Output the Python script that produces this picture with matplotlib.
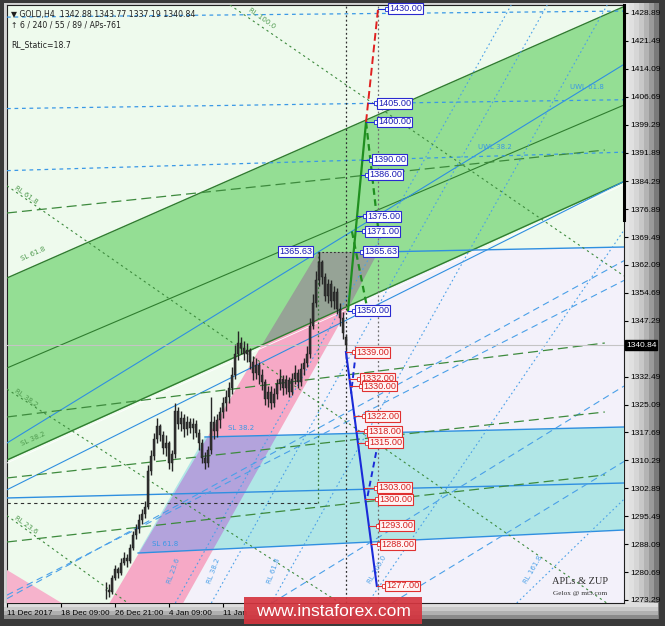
import matplotlib
matplotlib.use('Agg')
import matplotlib.pyplot as plt
from matplotlib.patches import Polygon, Rectangle
import matplotlib.transforms as mtransforms
import numpy as np

# ---------------- data ----------------
first_bar = 33
closes = [1276.0, 1275.5, 1279.0, 1281.5, 1280.5, 1283.0, 1284.5, 1283.5, 1287.0, 1290.5,
          1292.0, 1294.5, 1296.0, 1298.0, 1307.5, 1311.5, 1316.0, 1319.5, 1317.0, 1313.5,
          1315.0, 1309.5, 1312.0, 1323.5, 1320.0, 1321.5, 1318.5, 1320.5, 1319.0, 1320.0,
          1317.5, 1315.0, 1311.0, 1309.5, 1313.0, 1320.5, 1318.0, 1321.0, 1323.0, 1325.5,
          1327.0, 1329.5, 1333.0, 1338.5, 1341.5, 1340.0, 1338.5, 1339.5, 1336.5, 1333.5,
          1335.5, 1333.0, 1331.0, 1326.5, 1328.5, 1325.5, 1328.0, 1330.5, 1332.0, 1329.5,
          1331.5, 1328.5, 1332.0, 1333.5, 1331.0, 1334.5, 1336.0, 1338.5, 1346.0, 1352.0,
          1358.0, 1363.0, 1359.0, 1354.0, 1357.0, 1352.5, 1355.0, 1350.5, 1348.0, 1344.0,
          1340.84]
highs = [1278.0, 1277.5, 1280.0, 1282.5, 1282.0, 1284.5, 1286.0, 1285.5, 1288.0, 1291.5,
         1293.5, 1296.0, 1297.5, 1299.5, 1309.0, 1313.0, 1317.5, 1321.5, 1320.0, 1318.0,
         1317.0, 1315.5, 1313.0, 1325.5, 1324.5, 1323.5, 1322.5, 1322.0, 1321.5, 1321.5,
         1321.0, 1318.5, 1316.0, 1312.5, 1314.0, 1327.0, 1322.0, 1322.5, 1324.5, 1327.0,
         1329.0, 1331.0, 1335.0, 1341.0, 1344.5, 1343.0, 1342.0, 1341.5, 1340.0, 1338.0,
         1337.5, 1336.5, 1334.5, 1332.0, 1330.0, 1330.0, 1329.5, 1332.0, 1334.5, 1333.0,
         1333.0, 1332.5, 1333.5, 1335.5, 1334.5, 1336.0, 1337.5, 1340.5, 1348.0, 1354.5,
         1360.5, 1365.63, 1363.5, 1360.0, 1358.5, 1358.0, 1356.5, 1356.0, 1352.0, 1349.5,
         1343.77]
lows = [1273.5, 1274.0, 1275.0, 1278.5, 1279.0, 1280.0, 1282.5, 1282.0, 1283.0, 1286.5,
        1289.5, 1291.0, 1293.5, 1295.0, 1297.5, 1306.5, 1310.5, 1315.0, 1315.5, 1312.0,
        1311.5, 1308.0, 1307.5, 1311.0, 1318.5, 1318.0, 1316.5, 1317.0, 1317.5, 1316.0,
        1316.5, 1313.0, 1309.5, 1308.0, 1308.5, 1312.0, 1316.0, 1316.5, 1319.0, 1321.5,
        1323.5, 1325.5, 1328.0, 1332.0, 1337.0, 1338.5, 1337.0, 1336.5, 1334.5, 1331.5,
        1332.0, 1330.5, 1329.0, 1325.0, 1324.5, 1324.0, 1324.5, 1326.5, 1329.0, 1327.5,
        1328.0, 1327.0, 1327.5, 1330.5, 1329.5, 1330.0, 1333.0, 1335.0, 1337.5, 1345.0,
        1351.0, 1356.5, 1357.0, 1352.5, 1352.0, 1351.0, 1350.5, 1349.0, 1346.0, 1342.5,
        1337.19]
last_open = 1342.88
last_price = 1340.84

header_line1 = "\u25bc GOLD,H4  1342.88 1343.77 1337.19 1340.84"
header_line2 = "\u2191 6 / 240 / 55 / 89 / APs-761"
header_line3 = "RL_Static=18.7"

y_ticks = [1428.89, 1421.49, 1414.09, 1406.69, 1399.29, 1391.89, 1384.29, 1376.89,
           1369.49, 1362.09, 1354.69, 1347.29, 1332.49, 1325.09, 1317.69,
           1310.29, 1302.89, 1295.49, 1288.09, 1280.69, 1273.29]
x_tick_bars = [0, 18, 36, 54, 72]
x_tick_labels = ["11 Dec 2017", "18 Dec 09:00", "26 Dec 21:00", "4 Jan 09:00", "11 Jan"]

x_min, x_max = 0.0, 205.7
y_min, y_max = 1272.49, 1431.01

# channel (bar, price) at left and right edges
chan_x = [0.0, 205.7]
chan_upper = [1358.65, 1430.6]
chan_mid = [1334.79, 1404.5]
chan_lower = [1310.40, 1384.2]

gray_tri = [(103.7, 1365.54), (123.7, 1365.54), (114.3, 1351.4), (85.0, 1340.9)]
pink_band = [(33.8, 1272.0), (58.4, 1272.0), (114.3, 1351.4), (85.0, 1340.9)]
pink_corner = [(0.0, 1281.2), (0.0, 1272.0), (19.5, 1272.0)]
cyan_band = [(66.0, 1316.5), (205.7, 1319.15), (205.7, 1291.84), (43.7, 1285.74)]
lavender = [(123.7, 1365.54), (205.7, 1366.86), (205.7, 1272.0), (58.4, 1272.0), (114.3, 1351.4)]

# blue solid lines (two points, extended)
blue_rays = [((0, 1314.91), (201, 1412.99)),
             ((112.7, 1347.3), (205.3, 1384.1))]
# blue solid segments
blue_segs = [((123.7, 1365.54), (205.7, 1366.86)),
             ((66.0, 1316.5), (205.7, 1319.15)),
             ((0.0, 1300.33), (205.7, 1304.30)),
             ((43.7, 1285.74), (205.7, 1291.84))]
# blue dashed nearly-horizontal
blue_dash_h = [((0, 1427.8), (205.7, 1429.4)),
               ((0, 1403.55), (205.7, 1405.9)),
               ((0, 1387.1), (205.7, 1392.0))]
# blue dashed rising
blue_dash_rise = [((1, 1274.08), (64.3, 1301.65)),
                  ((90, 1273.3), (205.7, 1330.0)),
                  ((130, 1273.3), (205.7, 1310.0)),
                  ((112, 1320.0), (205.7, 1358.0))]
# blue dotted steep
blue_dot_steep = [((56.7, 1273.3), (100.0, 1334.6)),
                  ((68.7, 1273.3), (112.0, 1334.6)),
                  ((88.7, 1273.3), (132.0, 1334.6)),
                  ((121.0, 1273.3), (170.0, 1330.0)),
                  ((171.0, 1273.3), (205.7, 1300.0))]
# green dashed (long dash)
green_dash = [((0, 1375.87), (199.3, 1392.57)),
              ((0, 1321.80), (199.3, 1341.41)),
              ((0, 1305.63), (199.3, 1323.12)),
              ((0, 1288.66), (199.3, 1306.43))]
# green dotted falling (RL)
green_dot = [((75.3, 1430.48), (101.0, 1416.43)),
             ((2.0, 1381.97), (64.3, 1347.51)),
             ((2.0, 1328.16), (64.3, 1296.35)),
             ((2.0, 1294.49), (34.3, 1275.93))]

# projections
proj_green = [(113.7, 1350.0), (119.7, 1400.0)]
proj_green_dash = [((119.7, 1400.0), (123.7, 1372.0)), ((115.0, 1371.0), (120.0, 1351.0))]
proj_red = [(119.7, 1400.0), (123.7, 1430.0)]
proj_blue = [(113.0, 1339.0), (123.3, 1277.0)]
proj_blue_dash = [((116.3, 1338.8), (114.7, 1328.0)), ((123.7, 1315.0), (120.0, 1300.0))]

blue_labels = [(127.0, 1430.00), (123.3, 1405.00), (123.3, 1400.00), (121.7, 1390.00),
               (120.3, 1386.00), (119.7, 1375.00), (119.3, 1371.00), (118.7, 1365.63),
               (116.0, 1350.00)]
red_labels = [(116.0, 1339.00), (117.7, 1332.00), (118.3, 1330.00), (119.3, 1322.00),
              (120.0, 1318.00), (120.3, 1315.00), (123.3, 1303.00), (123.7, 1300.00),
              (124.0, 1293.00), (124.3, 1288.00), (126.0, 1277.00)]
peak_label = (101.7, 1365.63)

# ---------------- figure ----------------
W, H = 665, 626
fig = plt.figure(figsize=(W / 100, H / 100), dpi=100)
fig.patch.set_facecolor('#3a3a3a')

bg = fig.add_axes([0, 0, 1, 1], zorder=0)
bg.set_axis_off()
bg.set_xlim(0, W); bg.set_ylim(H, 0)
bg.add_patch(Rectangle((4, 3), 654, 616, fc='#d2d2d2', ec='none'))
for i, c in enumerate(['#e6e6e6', '#e0e0e0', '#d6d6d6', '#c8c8c8', '#b4b4b4', '#9a9a9a', '#7a7a7a']):
    bg.add_patch(Rectangle((624 + i * 5, 3), 5, 616, fc=c, ec='none'))
for i, c in enumerate(['#dedede', '#cacaca', '#b0b0b0', '#8a8a8a']):
    bg.add_patch(Rectangle((4, 603 + i * 4), 654, 4, fc=c, ec='none'))

ax = fig.add_axes([7 / W, 1 - 603 / H, 617 / W, 598 / H], zorder=2)
ax.set_facecolor('#eefaed')
ax.set_xlim(x_min, x_max)
ax.set_ylim(y_min, y_max)

# zones
ax.add_patch(Polygon(lavender, closed=True, fc='#f3f1fa', ec='none', zorder=1))
ax.fill_between(chan_x, chan_lower, chan_upper, color='#94de94', lw=0, zorder=2)
ax.add_patch(Polygon(gray_tri, closed=True, fc='#96a396', ec='none', zorder=3))
pink = Polygon(pink_band, closed=True, fc='#f6a9c6', ec='none', zorder=3)
ax.add_patch(pink)
ax.add_patch(Polygon(pink_corner, closed=True, fc='#f6b3cc', ec='none', zorder=3))
ax.add_patch(Polygon(cyan_band, closed=True, fc='#b0e6e6', ec='none', zorder=3))
purple = Polygon(cyan_band, closed=True, fc='#b3a3dc', ec='none', zorder=3.5)
ax.add_patch(purple)
purple.set_clip_path(pink)

# channel lines
for ys, lw in [(chan_upper, 1.0), (chan_mid, 0.8), (chan_lower, 1.0)]:
    ax.plot(chan_x, ys, color='#2f7d2f', lw=lw, zorder=4)
ax.plot(chan_x, [chan_lower[0] - 0.8, chan_lower[1] - 0.8], color='#ffffff', lw=0.6, zorder=4)

for p1, p2 in blue_rays:
    ax.axline(p1, p2, color='#2f8fe0', lw=0.8, zorder=4)
for p1, p2 in blue_segs:
    ax.plot([p1[0], p2[0]], [p1[1], p2[1]], color='#2f8fe0', lw=1.0, zorder=4)
for p1, p2 in blue_dash_h:
    ax.plot([p1[0], p2[0]], [p1[1], p2[1]], color='#3a98e6', lw=0.9, ls=(0, (3, 3)), zorder=4)
for p1, p2 in blue_dash_rise:
    ax.axline(p1, p2, color='#4aa0e8', lw=0.8, ls=(0, (6, 4)), zorder=4)
for p1, p2 in blue_dot_steep:
    ax.axline(p1, p2, color='#4aa0e8', lw=0.8, ls=(0, (1.5, 2.5)), zorder=4)
for p1, p2 in green_dash:
    ax.plot([p1[0], p2[0]], [p1[1], p2[1]], color='#3d8a3d', lw=0.9, ls=(0, (8, 4)), zorder=4)
for p1, p2 in green_dot:
    ax.axline(p1, p2, color='#3d8a3d', lw=0.8, ls=(0, (2, 3)), zorder=4)

# current price line
ax.axhline(last_price, color='#c4c4c4', lw=0.8, zorder=4)

# dotted verticals / horizontals
last_bar = first_bar + len(closes) - 1
ax.axvline(last_bar, color='#303030', lw=0.9, ls=(0, (1.5, 2)), zorder=5)
ax.axvline(123.7, color='#707070', lw=0.9, ls=(0, (1.5, 2)), zorder=5)
ax.plot([103.7, 103.7], [1299.0, peak_label[1]], color='#3d7a3d', lw=0.9, ls=(0, (1.5, 2)), zorder=5)
ax.plot([0, 103.7], [1299.0, 1299.0], color='#303030', lw=0.8, ls=(0, (3, 3)), zorder=5)
ax.plot([103.7, 123.7], [peak_label[1], peak_label[1]], color='#303030', lw=0.8, ls=(0, (1.5, 2)), zorder=5)

# candles
xs = np.arange(first_bar, first_bar + len(closes))
opens = [closes[0]] + closes[:-1]
opens[-1] = last_open
ax.vlines(xs, lows, highs, color='#262626', lw=1.0, zorder=6)
body_lo = np.minimum(opens, closes)
body_h = np.abs(np.array(closes) - np.array(opens))
ax.bar(xs, body_h, bottom=body_lo, width=0.6, color='#333333', edgecolor='#1a1a1a', lw=0.3, zorder=6)

# projections
ax.plot(*zip(*proj_green), color='#1f8f1f', lw=1.6, zorder=7)
for p1, p2 in proj_green_dash:
    ax.plot([p1[0], p2[0]], [p1[1], p2[1]], color='#1f8f1f', lw=1.6, ls=(0, (3, 2)), zorder=7)
ax.plot(*zip(*proj_red), color='#e02020', lw=1.4, ls=(0, (4, 2)), zorder=7)
ax.plot(*zip(*proj_blue), color='#1a2ad8', lw=1.5, zorder=7)
for p1, p2 in proj_blue_dash:
    ax.plot([p1[0], p2[0]], [p1[1], p2[1]], color='#1a2ad8', lw=1.4, ls=(0, (3, 2)), zorder=7)

lab_font = dict(family='Liberation Sans', size=6.6)


def proj_x(line, price):
    (xa, ya), (xb, yb) = line
    return xa + (price - ya) * (xb - xa) / (yb - ya)


for x, p in blue_labels:
    x0 = proj_x(proj_green if p <= 1400 else proj_red, p)
    ax.plot([x0, x - 0.4], [p, p], color='#1a2ad8', lw=0.8, zorder=8)
    ax.plot([x - 0.3], [p], marker='s', ms=2.2, mfc='white', mec='#1a2ad8', mew=0.6, zorder=9)
    ax.text(x + 0.4, p, f"{p:.2f}", color='#1a1ab4', fontdict=lab_font, va='center', ha='left', zorder=9,
            bbox=dict(boxstyle='square,pad=0.1', fc='white', ec='#2a2ad0', lw=0.8))
for x, p in red_labels:
    x0 = proj_x(proj_blue, p)
    ax.plot([x0, x - 0.4], [p, p], color='#e03030', lw=0.8, zorder=8)
    ax.plot([x - 0.3], [p], marker='s', ms=2.2, mfc='white', mec='#e03030', mew=0.6, zorder=9)
    ax.text(x + 0.4, p, f"{p:.2f}", color='#d42020', fontdict=lab_font, va='center', ha='left', zorder=9,
            bbox=dict(boxstyle='square,pad=0.1', fc='#fff4f4', ec='#e03030', lw=0.8))
ax.text(peak_label[0], peak_label[1], f"{peak_label[1]:.2f}", color='#1a1ab4', fontdict=lab_font,
        va='center', ha='right', zorder=9,
        bbox=dict(boxstyle='square,pad=0.1', fc='white', ec='#2a2ad0', lw=0.8))

# small line labels
small = dict(family='DejaVu Sans', size=5.0)
line_texts = [
    ("SL 61.8", 5.0, 1362.9, 24, '#4f9a4f'), ("SL 38.2", 5.0, 1313.9, 24, '#4f9a4f'),
    ("RL 61.8", 2.3, 1382.0, -35, '#4f9a4f'), ("RL 38.2", 2.3, 1328.2, -35, '#4f9a4f'),
    ("RL 23.6", 2.3, 1294.5, -35, '#4f9a4f'), ("RL 100.0", 80.3, 1429.2, -35, '#4f9a4f'),
    ("UWL 61.8", 187.7, 1408.5, 0, '#3a98e6'), ("UWL 38.2", 157.0, 1392.6, 0, '#3a98e6'),
    ("SL 38.2", 73.7, 1318.1, 0, '#3a98e6'), ("SL 61.8", 48.3, 1287.3, 0, '#3a98e6'),
    ("RL 23.6", 55.0, 1277.4, 70, '#4aa0e8'), ("RL 38.2", 68.3, 1277.4, 70, '#4aa0e8'),
    ("RL 61.8", 88.3, 1277.4, 70, '#4aa0e8'), ("RL 100.0", 121.7, 1277.4, 60, '#4aa0e8'),
    ("RL 161.8", 173.7, 1277.4, 60, '#4aa0e8'),
]
for t, x, y, r, c in line_texts:
    ax.text(x, y, t, color=c, fontdict=small, rotation=r, ha='left', va='bottom', zorder=5,
            rotation_mode='anchor')

# axes styling
for s in ax.spines.values():
    s.set_color('#202020'); s.set_linewidth(0.8)
ax.yaxis.tick_right()
ax.set_yticks(y_ticks)
ax.set_yticklabels([f"{v:.2f}" for v in y_ticks], family='Liberation Sans', fontsize=6)
ax.tick_params(axis='y', direction='out', length=3, width=0.8, pad=1.5, colors='black')
ax.set_xticks(x_tick_bars)
ax.set_xticklabels(x_tick_labels, family='Liberation Sans', fontsize=5.9, ha='left')
ax.tick_params(axis='x', direction='out', length=3, width=0.8, pad=2, colors='black')

tr = mtransforms.blended_transform_factory(ax.transAxes, ax.transData)
ax.text(1.003, last_price, f"{last_price:.2f}", transform=tr, color='white', fontsize=6,
        family='Liberation Sans', va='center', ha='left', zorder=10,
        bbox=dict(boxstyle='square,pad=0.15', fc='black', ec='black'))
ax.plot([1.0, 1.0], [1374.0, 1431.0], transform=tr, color='black', lw=2.2, clip_on=False, zorder=10)

# overlay texts
ov = fig.add_axes([0, 0, 1, 1], zorder=20)
ov.set_axis_off(); ov.patch.set_alpha(0)
ov.set_xlim(0, W); ov.set_ylim(H, 0)
ov.text(11, 14, header_line1, fontsize=5.6, family='DejaVu Sans', color='#202020', va='center')
ov.text(11, 25, header_line2, fontsize=5.6, family='DejaVu Sans', color='#202020', va='center')
ov.text(11, 45, header_line3, fontsize=5.6, family='DejaVu Sans', color='#202020', va='center')
ov.text(580, 582, "APLs & ZUP", fontsize=7.5, family='Liberation Serif', color='#303030', ha='center', va='center')
ov.text(580, 593, "Gelox @ mt5.com", fontsize=5.2, family='Liberation Serif', color='#303030', ha='center', va='center')
ov.add_patch(Rectangle((244, 597), 178, 27, fc='#d5353f', ec='none', alpha=0.92))
ov.text(333, 611, "www.instaforex.com", fontsize=12.5, family='Liberation Sans', color='white',
        ha='center', va='center')

fig.savefig('out.png', dpi=100, facecolor=fig.get_facecolor())
